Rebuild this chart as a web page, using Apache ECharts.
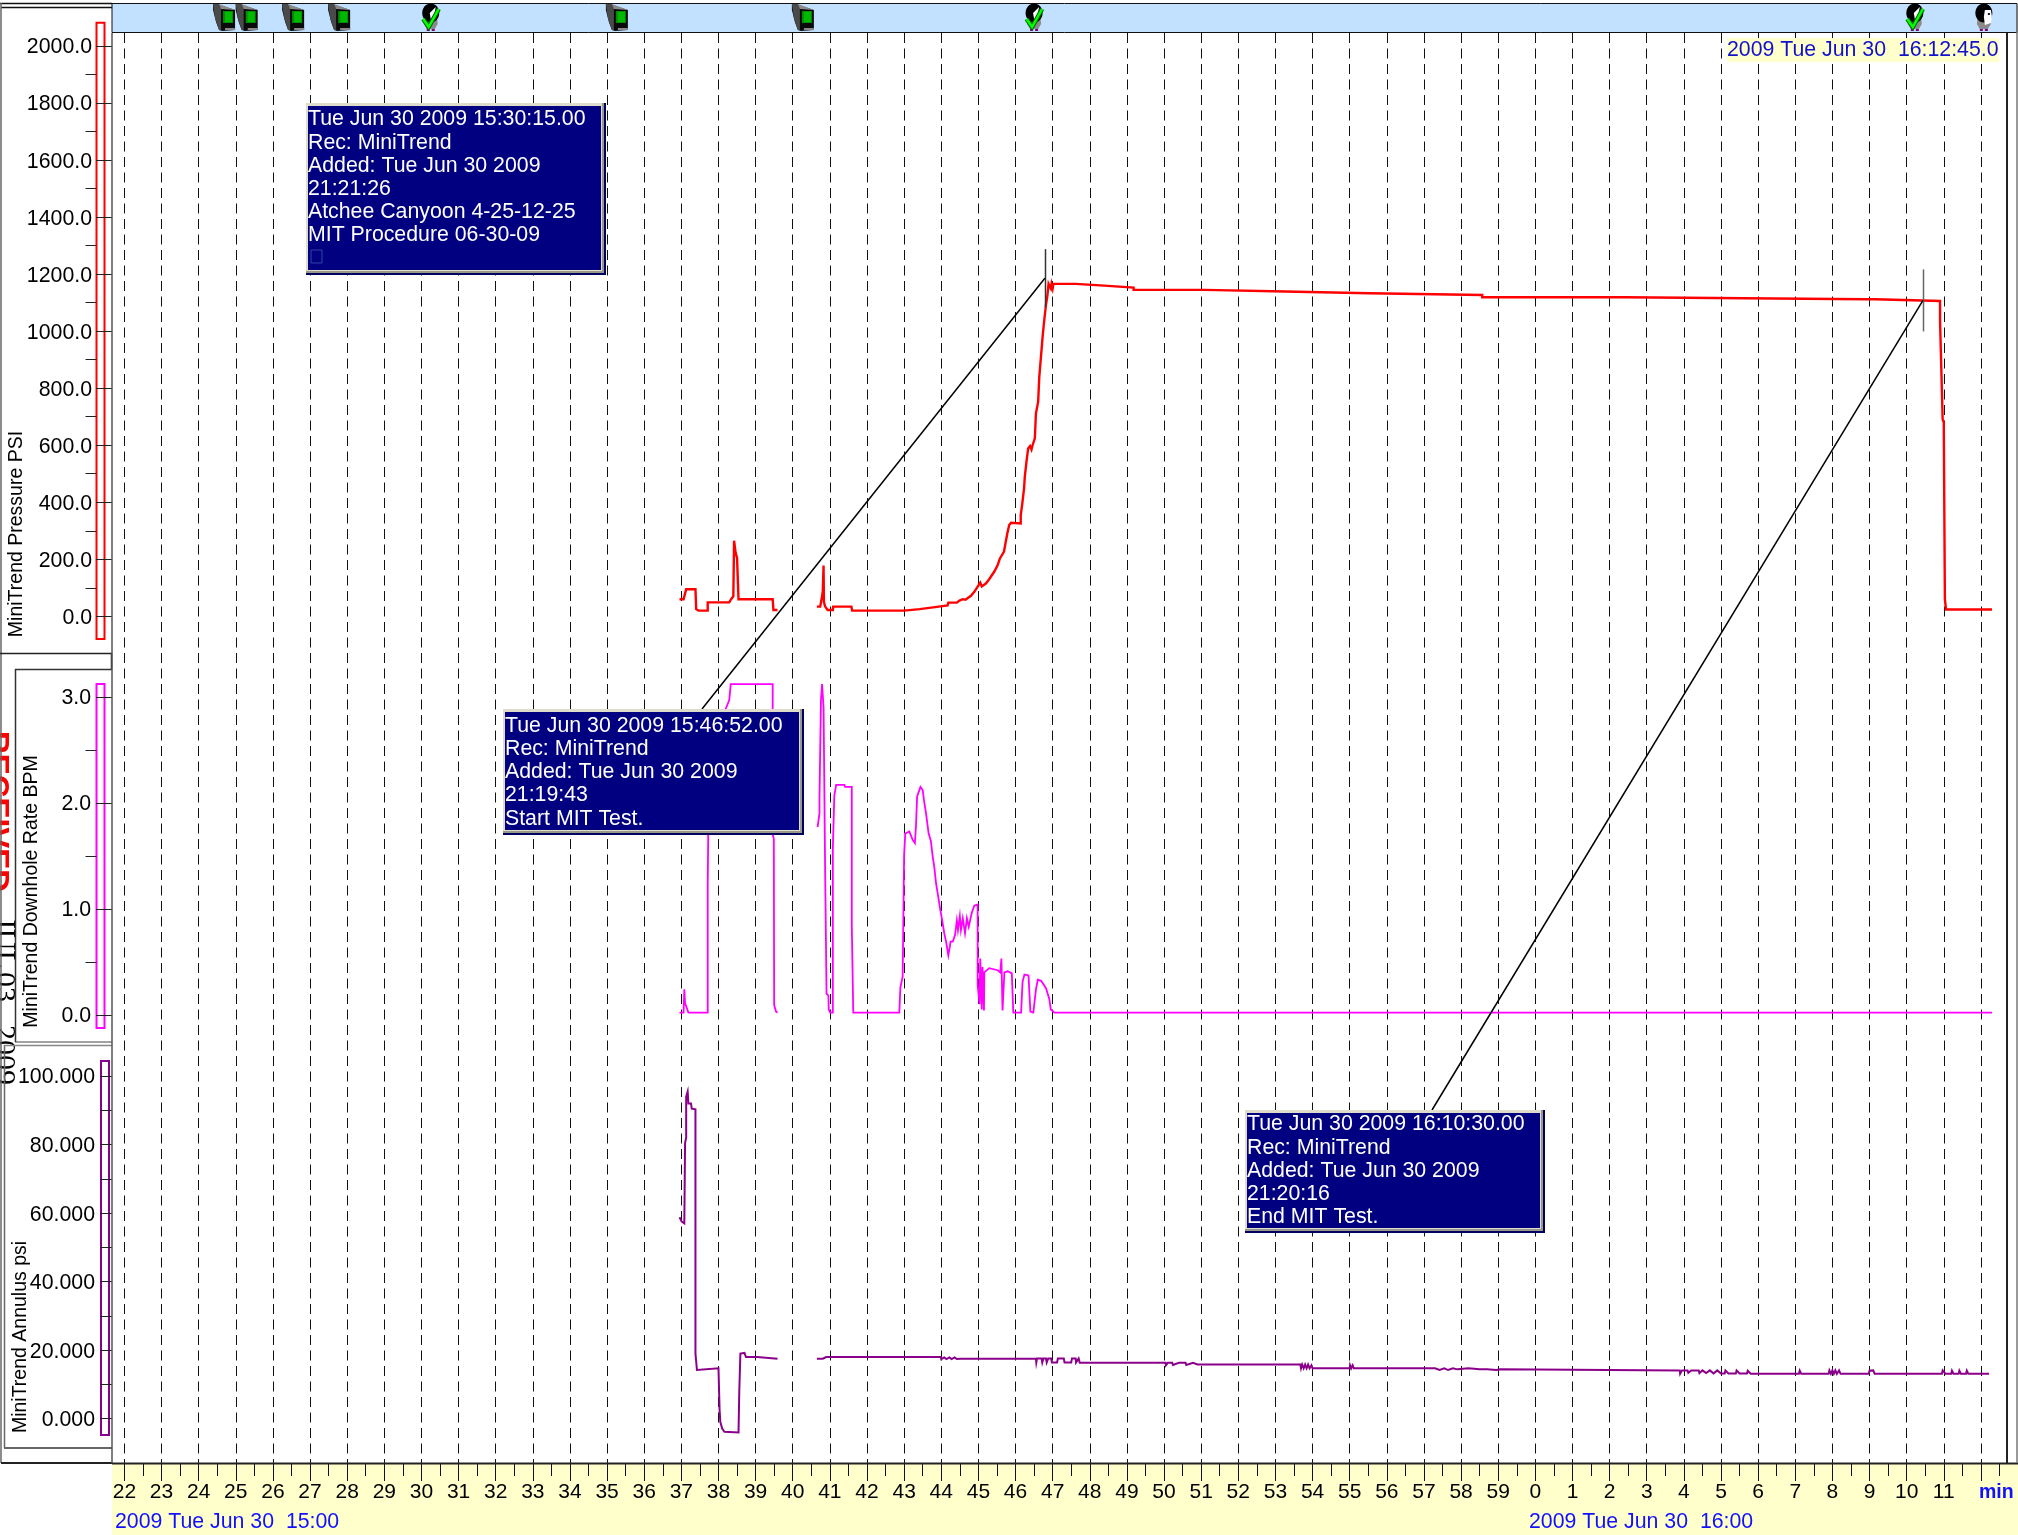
<!DOCTYPE html>
<html>
<head>
<meta charset="utf-8">
<style>html,body{margin:0;padding:0;background:#fff}#c{width:2018px;height:1535px}</style>
<script src="https://cdn.jsdelivr.net/npm/echarts@6/dist/echarts.min.js"></script>
</head>
<body>
<div id="c"></div>
<script>
// ---- data: [minutes after 15:00, value] ----
const pressureFirstRun = [[36.95,60],[37.06,60],[37.13,95],[37.38,95],[37.40,25],[37.46,20],[37.71,20],[37.71,49],[38.29,49],[38.34,60],[38.40,70],[38.42,265],[38.46,224],[38.50,205],[38.54,205],[38.54,60],[39.46,60],[39.48,22],[39.59,22]];
const pressureRamp = [[40.65,34],[40.74,34],[40.79,70],[40.81,89],[40.83,178],[40.84,50],[40.87,35],[40.94,22],[41.08,22],[41.09,34],[41.58,34],[41.60,20],[43.0,20],[43.02,25],[43.42,25],[43.44,32],[43.83,32],[43.86,38],[44.17,38],[44.19,48],[44.42,48],[44.49,55],[44.53,50],[44.58,60],[44.65,58],[44.68,65],[44.80,72],[44.89,86],[44.98,104],[45.05,118],[45.09,105],[45.2,115],[45.29,130],[45.43,157],[45.52,180],[45.58,203],[45.69,227],[45.72,249],[45.78,291],[45.83,320],[45.88,328],[46.14,326],[46.14,355],[46.18,393],[46.23,449],[46.25,490],[46.30,548],[46.34,589],[46.39,597],[46.43,585],[46.46,600],[46.52,624],[46.55,712],[46.61,753],[46.64,840],[46.68,902],[46.73,981],[46.77,1034],[46.82,1092],[46.86,1127],[46.89,1166]];
const pressurePlateau = [[46.93,1166],[46.95,1150],[46.97,1166],[47.0,1150],[47.02,1166],[47.62,1166],[47.62,1160],[48.39,1160],[48.39,1153],[49.18,1153],[49.18,1145],[51.08,1145],[51.08,1139],[53.26,1139],[53.26,1133],[55.53,1133],[55.53,1127],[58.57,1127],[58.57,1119],[62.38,1119],[62.38,1112],[68.9,1112],[68.92,1107],[68.98,1112],[69.02,1107],[69.06,1112],[69.1,1108],[69.15,1112],[69.2,1106],[70.9,1106]];
const pressureDrop = [[70.9,1035],[70.95,1035],[70.97,690],[71.0,680],[71.03,60],[71.06,24],[72.3,24]];

const rateFirstRun = [[36.95,0.02],[37.06,0.02],[37.08,0.24],[37.10,0.11],[37.15,0.11],[37.19,0.02],[37.71,0.02],[37.71,1.22],[37.75,1.22],[37.75,2.6],[38.15,2.85],[38.2,2.89],[38.29,2.97],[38.33,3.12],[39.46,3.12],[39.46,1.7],[39.49,1.66],[39.5,0.09],[39.55,0.03],[39.59,0.02]];
const rateSecondRun = [[40.67,1.77],[40.72,1.9],[40.72,2.04],[40.76,2.04],[40.76,2.97],[40.79,2.97],[40.79,3.12],[40.83,3.12],[40.83,2.9],[40.87,2.89],[40.87,1.45],[40.91,1.45],[40.91,0.2],[40.96,0.18],[40.97,0.05],[41.01,0.02],[41.08,0.02],[41.08,1.57],[41.12,1.57],[41.12,2.07],[41.17,2.07],[41.17,2.17],[41.39,2.17],[41.41,2.15],[41.59,2.15],[41.59,0.85],[41.63,0.85],[41.63,0.02]];
const rateThirdRun = [[42.87,0.02],[42.9,0.26],[42.96,0.36],[43.0,1.51],[43.03,1.71],[43.14,1.73],[43.23,1.65],[43.29,1.62],[43.32,1.79],[43.35,2.06],[43.41,2.12],[43.44,2.15],[43.5,2.12],[43.54,2.01],[43.59,1.9],[43.66,1.71],[43.72,1.64],[43.77,1.49],[43.81,1.4],[43.86,1.24],[43.92,1.11],[43.97,1.0],[44.04,0.86],[44.08,0.77],[44.13,0.69],[44.19,0.56],[44.23,0.64],[44.25,0.69],[44.31,0.69],[44.37,0.75],[44.42,0.89],[44.45,0.8],[44.5,0.93],[44.53,0.8],[44.58,0.91],[44.64,0.77],[44.69,0.91],[44.74,0.83],[44.82,0.96],[44.89,1.03],[44.98,1.04],[44.98,0.28],[45.03,0.1],[45.05,0.53],[45.09,0.05],[45.11,0.45],[45.15,0.04],[45.16,0.4],[45.29,0.44],[45.52,0.42],[45.59,0.4],[45.62,0.53],[45.65,0.04],[45.7,0.4],[45.79,0.41],[45.9,0.39],[45.94,0.02],[46.15,0.02],[46.19,0.31],[46.24,0.38],[46.35,0.37],[46.4,0.03],[46.48,0.02],[46.55,0.24],[46.6,0.33],[46.69,0.32],[46.82,0.25],[46.91,0.15],[46.95,0.05],[47.05,0.02],[72.3,0.02]];

const annulusFirstRun = [[36.95,58.8],[37.01,57.5],[37.04,57],[37.08,57],[37.1,80.5],[37.13,82],[37.13,94],[37.17,95.5],[37.19,92],[37.26,92],[37.28,90.5],[37.38,90.3],[37.38,19],[37.42,19],[37.42,14.2],[37.46,14.7],[38.0,14.7],[38.03,2.5],[38.05,-1],[38.1,-2.9],[38.16,-3.8],[38.54,-4],[38.56,7.9],[38.59,19],[38.7,19.2],[38.74,18],[39.04,18],[39.06,17.5],[39.59,17.5]];
const annulusSecondRun = [[40.65,17.5],[40.81,17.5],[40.9,18],[43.99,18],[44.0,17.4],[44.08,17.9],[44.14,17.4],[44.22,17.9],[44.28,17.4],[44.36,17.9],[44.42,17.4],[44.47,17.9],[44.52,17.5],[46.55,17.5],[46.56,16.4],[46.58,17.6],[46.7,17.6],[46.72,16.4],[46.75,17.6],[46.82,17.6],[46.84,16.4],[46.88,17.6],[46.96,17.6],[46.98,16.4],[47.12,16.4],[47.14,17.6],[47.3,17.6],[47.32,16.4],[47.5,16.4],[47.52,17.6],[47.62,17.6],[47.63,16.4],[47.68,16.4],[47.7,17.6],[47.73,16.3],[50.04,16.3],[50.05,15.6],[50.1,16.3],[50.22,16.3],[50.24,15.7],[50.4,16.3],[50.58,16.3],[50.6,15.7],[50.78,16.3],[50.9,15.8],[51.11,15.8],[53.67,15.8],[53.69,14.7],[53.72,15.8],[53.76,14.7],[53.8,15.8],[53.84,14.7],[53.88,15.8],[53.92,14.7],[53.97,15.6],[54.0,14.7],[55.0,14.7],[55.01,15.6],[55.04,14.7],[55.08,15.6],[55.11,14.7],[57.13,14.7],[57.15,14.2],[57.3,14.7],[57.42,14.2],[57.55,14.7],[57.65,14.2],[57.78,14.7],[57.9,14.4],[58.2,14.7],[58.5,14.4],[58.7,14.4],[58.72,14.2],[58.95,14.2],[59.05,14.4],[59.1,14.1],[63.89,14.1],[63.9,13.1],[63.95,14.1],[64.1,14.1],[64.12,13.4],[64.2,14.1],[64.4,14.1],[64.42,13.3],[64.5,14.1],[64.6,13.3],[64.7,14.1],[64.8,13.2],[64.9,14.1],[65.0,13.2],[65.1,13.2],[65.12,14.1],[65.2,13.2],[65.4,13.2],[65.42,14.1],[65.5,13.2],[65.7,13.2],[65.72,14],[65.8,13.1],[65.95,13.1],[67.1,13.1],[67.12,14],[67.16,13.1],[67.9,13.1],[67.92,14.1],[67.96,13.1],[68.0,14.1],[68.04,13.1],[68.08,14.1],[68.12,13.1],[68.18,14.1],[68.22,13.1],[68.98,13.1],[69.0,14],[69.1,14.1],[69.14,13.1],[70.95,13.1],[70.97,14.1],[71.02,14.1],[71.05,13.1],[71.2,13.1],[71.22,14],[71.26,13.1],[71.4,13.1],[71.42,14],[71.46,13.1],[71.6,13.1],[71.62,14],[71.66,13.1],[72.22,13.1]];

const monitorEvents = [24.67, 25.28, 26.53, 27.77, 35.25, 40.26];
const checkEvents = [30.25, 46.5, 70.22];
const personEvents = [72.08];
const leaderMinutes = [46.79, 70.44];
const leaderPressures = [1186, 1108];

const minuteTicks = [22,23,24,25,26,27,28,29,30,31,32,33,34,35,36,37,38,39,40,41,42,43,44,45,46,47,48,49,50,51,52,53,54,55,56,57,58,59,60,61,62,63,64,65,66,67,68,69,70,71,72];
const minuteLabels = [22,23,24,25,26,27,28,29,30,31,32,33,34,35,36,37,38,39,40,41,42,43,44,45,46,47,48,49,50,51,52,53,54,55,56,57,58,59,60,61,62,63,64,65,66,67,68,69,70,71];
const halfMinuteTicks = [22.5,23.5,24.5,25.5,26.5,27.5,28.5,29.5,30.5,31.5,32.5,33.5,34.5,35.5,36.5,37.5,38.5,39.5,40.5,41.5,42.5,43.5,44.5,45.5,46.5,47.5,48.5,49.5,50.5,51.5,52.5,53.5,54.5,55.5,56.5,57.5,58.5,59.5,60.5,61.5,62.5,63.5,64.5,65.5,66.5,67.5,68.5,69.5,70.5,71.5,72.5];
const pressureTicks = [0,200,400,600,800,1000,1200,1400,1600,1800,2000];
const pressureMinor = [100,300,500,700,900,1100,1300,1500,1700,1900];
const rateTicks = [0,1,2,3];
const rateMinor = [0.5,1.5,2.5];
const annulusTicks = [0,20,40,60,80,100];
const annulusAll = [0,10,20,30,40,50,60,70,80,90,100];

const callouts = [
  {x:306,y:103,w:300,h:172,shift:2,lines:['Tue Jun 30 2009 15:30:15.00','Rec: MiniTrend','Added: Tue Jun 30 2009','21:21:26','Atchee Canyoon 4-25-12-25','MIT Procedure 06-30-09'],box:true},
  {x:503,y:709,w:301,h:126,shift:2.5,lines:['Tue Jun 30 2009 15:46:52.00','Rec: MiniTrend','Added: Tue Jun 30 2009','21:19:43','Start MIT Test.']},
  {x:1245,y:1110,w:300,h:123,shift:0,lines:['Tue Jun 30 2009 16:10:30.00','Rec: MiniTrend','Added: Tue Jun 30 2009','21:20:16','End MIT Test.']}
];
const leaderAttachX = [702, 1432];
const leaderAttachY = [709, 1110];
const leaderHalf = [29, 31];

// ---- layout ----
const FONT = '"Liberation Sans", Arial, sans-serif';
const TXT = 21.3;
const L = 112, W = 1895, FULLW = 1905;
const xMin = 22 - (124.4 - L) / 37.13;
const xMax = xMin + W / 37.13;
const xMaxFull = xMin + FULLW / 37.13;
const join = (...segs) => { const o = []; segs.forEach((s,i)=>{ if(i) o.push([s[0][0]-0.01,null]); o.push(...s); }); return o; };

const grids = [
  {left:L,width:FULLW,top:3.5,height:29,show:true,backgroundColor:'#C2E0FF',borderColor:'#111',borderWidth:1},  // 0 event band
  {left:L,width:1906,top:1463,height:72,show:true,backgroundColor:'#FFFFCC',borderWidth:0},                      // 1 time band
  {left:L,width:W,top:33,height:1430},                                                                          // 2 plot
  {left:L,width:W,top:22.7,height:616.3},                                                                       // 3 pressure
  {left:L,width:W,top:684,height:344},                                                                          // 4 rate
  {left:L,width:W,top:1061,height:374},                                                                         // 5 annulus
  {left:96.5,width:8,top:22.7,height:616.3,show:true,borderColor:'#FF0000',borderWidth:2},                       // 6 rails
  {left:96.5,width:8,top:684,height:344,show:true,borderColor:'#FF00FF',borderWidth:2},
  {left:101,width:8,top:1061,height:374,show:true,borderColor:'#8B008B',borderWidth:2}
];
const hiddenX = (g,max) => ({type:'value',gridIndex:g,show:false,min:xMin,max:max||xMax});
const hiddenY = (g) => ({type:'value',gridIndex:g,show:false,min:0,max:1});
const P = {min:-79.6,max:2082}, R = {min:-0.125,max:3.121}, A = {min:-4.76,max:104.4};

const xAxes = [
  hiddenX(0,xMaxFull),              // 0
  hiddenX(1),                       // 1
  {type:'value',gridIndex:2,min:xMin,max:xMax,position:'bottom',           // 2 labels + dashes
    axisLine:{show:false},
    axisTick:{show:true,length:18,customValues:minuteTicks,lineStyle:{color:'#111',width:1}},
    axisLabel:{show:true,customValues:minuteLabels,margin:19,color:'#000',fontFamily:FONT,fontSize:21,hideOverlap:false,
      formatter:v=>String(v>=60?v-60:v)},
    splitLine:{show:true,lineStyle:{color:'#111',width:1,type:[10,5.5]}}},
  {type:'value',gridIndex:2,min:xMin,max:xMax,position:'bottom',           // 3 half-minute ticks
    axisLine:{show:false},axisLabel:{show:false},splitLine:{show:false},
    axisTick:{show:true,length:13,customValues:halfMinuteTicks,lineStyle:{color:'#111',width:1}}},
  hiddenX(3),hiddenX(4),hiddenX(5), // 4 5 6
  {type:'value',gridIndex:6,show:false,min:0,max:1},
  {type:'value',gridIndex:7,show:false,min:0,max:1},
  {type:'value',gridIndex:8,show:false,min:0,max:1}
];
const labelled = (g,range,ticks,labels,len,margin,digits) => ({
  type:'value',gridIndex:g,min:range.min,max:range.max,position:'left',
  axisLine:{show:false},splitLine:{show:false},
  axisTick:{show:true,length:len,customValues:ticks,lineStyle:{color:'#222',width:1}},
  axisLabel:{show:true,customValues:labels,margin:margin,hideOverlap:false,
    formatter:v=>'{a|'+v.toFixed(digits)+'}',
    rich:{a:{color:'#000',fontFamily:FONT,fontSize:TXT,padding:[3,0,0,0]}}}
});
const railMinor = (g,range,ticks,offset,len) => ({
  type:'value',gridIndex:g,min:range.min,max:range.max,position:'right',offset:offset,
  axisLine:{show:false},axisLabel:{show:false},splitLine:{show:false},
  axisTick:{show:true,inside:true,length:len,customValues:ticks,lineStyle:{color:'#222',width:1}}
});
const yAxes = [
  hiddenY(0),hiddenY(1),hiddenY(2),
  labelled(3,P,pressureTicks,pressureTicks,16,20,1),
  labelled(4,R,rateTicks,rateTicks,16,21,1),
  labelled(5,A,annulusAll,annulusTicks,12,17,3),
  railMinor(6,P,pressureMinor,2.5,11),
  railMinor(7,R,rateMinor,3,11),
  hiddenY(8)
];

const line = (name,xi,yi,data,color,width) => ({
  name,type:'line',xAxisIndex:xi,yAxisIndex:yi,data,symbol:'none',silent:true,animation:false,
  connectNulls:false,clip:false,z:3,lineStyle:{color,width,join:'miter'}
});

function monitorIcon(params,api){
  const x = api.coord([api.value(0),0])[0]-10.5, t = 4;
  const pg=(pts,fill)=>({type:'polygon',shape:{points:pts.map(p=>[x+p[0],t+p[1]])},style:{fill}});
  const rc=(a,b,w,h,fill)=>({type:'rect',shape:{x:x+a,y:t+b,width:w,height:h},style:{fill}});
  return {type:'group',silent:true,children:[
    pg([[0,0],[7,1],[22,6],[22,26],[9,27],[6,26],[3,18],[0,6]],'#0a0a0a'),
    pg([[0,0],[6,0],[8,4],[8,26],[6,26],[2,14]],'#4a4a4a'),
    pg([[6,0],[22,6],[8,5]],'#8a8a8a'),
    rc(10,7,10,12,'#008f00'),
    rc(12,8,7,10,'#00B800'),
    rc(12,24,10,2,'#888')
  ]};
}
function figureBody(x,t){
  return [
    {type:'rect',shape:{x:x+5,y:t+23,width:3,height:4},style:{fill:'#800080'}},
    {type:'rect',shape:{x:x+10,y:t+23,width:3,height:4},style:{fill:'#800080'}},
    {type:'polygon',shape:{points:[[x+3,t+12],[x+15,t+10],[x+16,t+20],[x+13,t+25],[x+5,t+25],[x+2,t+20]]},style:{fill:'#8a8a8a'}},
    {type:'ellipse',shape:{cx:x+9,cy:t+9,rx:8.5,ry:9.5},style:{fill:'#000'}}
  ];
}
function checkIcon(params,api){
  const x = api.coord([api.value(0),0])[0]-9, t = 4;
  return {type:'group',silent:true,children:figureBody(x,t).concat([
    {type:'polygon',shape:{points:[[x+8,t+9],[x+14,t+3],[x+12,t+14],[x+9,t+15]]},style:{fill:'#fff'}},
    {type:'polyline',shape:{points:[[x+1.5,t+15],[x+7,t+23],[x+17,t+5]]},style:{fill:'none',stroke:'#006600',lineWidth:4.5}},
    {type:'polyline',shape:{points:[[x+1.5,t+15],[x+7,t+23],[x+17,t+5]]},style:{fill:'none',stroke:'#00FF00',lineWidth:2.5}}
  ])};
}
function personIcon(params,api){
  const x = api.coord([api.value(0),0])[0]-9, t = 4;
  return {type:'group',silent:true,children:figureBody(x,t).concat([
    {type:'polygon',shape:{points:[[x+10,t+6],[x+16,t+6],[x+17,t+12],[x+16,t+19],[x+10,t+21],[x+9,t+13]]},style:{fill:'#fff'}},
    {type:'rect',shape:{x:x+13,y:t+9,width:2,height:2},style:{fill:'#113'}}
  ])};
}
function leaderItem(params,api){
  const i = params.dataIndex;
  const p = api.coord([api.value(0),api.value(1)]);
  const cx = Math.round(p[0])+0.5;
  return {type:'group',silent:true,children:[
    {type:'line',shape:{x1:cx,y1:p[1]-leaderHalf[i],x2:cx,y2:p[1]+leaderHalf[i]},style:{stroke:i?'#666':'#333',lineWidth:1.5}},
    {type:'line',shape:{x1:p[0],y1:p[1],x2:leaderAttachX[i],y2:leaderAttachY[i]},style:{stroke:'#000',lineWidth:1.5}}
  ]};
}

const series = [
  {type:'custom',name:'monitors',xAxisIndex:0,yAxisIndex:0,data:monitorEvents.map(v=>[v,0.5]),renderItem:monitorIcon,clip:false,silent:true,animation:false,z:4},
  {type:'custom',name:'checks',xAxisIndex:0,yAxisIndex:0,data:checkEvents.map(v=>[v,0.5]),renderItem:checkIcon,clip:false,silent:true,animation:false,z:4},
  {type:'custom',name:'persons',xAxisIndex:0,yAxisIndex:0,data:personEvents.map(v=>[v,0.5]),renderItem:personIcon,clip:false,silent:true,animation:false,z:4},
  {type:'line',name:'ticks',xAxisIndex:2,yAxisIndex:2,data:[],silent:true},
  {type:'line',name:'half',xAxisIndex:3,yAxisIndex:2,data:[],silent:true},
  line('MiniTrend Pressure PSI',4,3,join(pressureFirstRun,pressureRamp.concat(pressurePlateau,pressureDrop)),'#FF0000',2.4),
  line('MiniTrend Downhole Rate BPM',5,4,join(rateFirstRun,rateSecondRun.concat(rateThirdRun)),'#FF00FF',1.8),
  line('MiniTrend Annulus psi',6,5,join(annulusFirstRun,annulusSecondRun),'#8B008B',2),
  {type:'custom',name:'leaders',xAxisIndex:4,yAxisIndex:3,data:leaderMinutes.map((m,i)=>[m,leaderPressures[i]]),renderItem:leaderItem,clip:false,silent:true,animation:false,z:6},
  {type:'line',xAxisIndex:7,yAxisIndex:6,data:[],silent:true},
  {type:'line',xAxisIndex:8,yAxisIndex:7,data:[],silent:true}
];

// ---- annotations (page furniture, fixed pixels) ----
const lineG = (x1,y1,x2,y2,stroke,lw,z) => ({type:'line',silent:true,z:z||8,shape:{x1,y1,x2,y2},style:{stroke,lineWidth:lw}});
const textG = (x,y,t,o) => ({type:'text',silent:true,z:(o&&o.z)||9,x,y,rotation:(o&&o.rot)||0,
  style:{text:t,fontFamily:(o&&o.font)||FONT,fontSize:(o&&o.size)||TXT,fontWeight:(o&&o.weight)||'normal',fill:(o&&o.fill)||'#000',align:(o&&o.align)||'left',verticalAlign:(o&&o.v)||'middle'}});
const CW = -Math.PI/2, CCW = Math.PI/2;
const SERIF = '"Liberation Serif",serif';
const graphics = [
  // rotated scan stamps at the left edge
  textG(-4,731,'RECEIVED',{rot:CW,size:31.5,weight:'bold',fill:'#FF0000',z:1}),
  textG(4,917,'JUL',{rot:CW,size:30,font:SERIF,z:1}),
  textG(4,972,'03',{rot:CW,size:30,font:SERIF,z:1}),
  textG(4,1025,'2009',{rot:CW,size:30,font:SERIF,z:1}),
  // panel frames
  lineG(0,3.5,112,3.5,'#111',1.5),
  lineG(1,7.5,112,7.5,'#111',1.5),
  lineG(1,3,1,1463,'#666',1.5),
  lineG(4.5,1045,4.5,1448,'#666',1.5),
  lineG(0,653.5,112,653.5,'#222',1.5),
  lineG(111.5,653,111.5,669,'#222',1.5),
  lineG(15,669.5,112,669.5,'#333',1.5),
  lineG(15.5,669,15.5,1042,'#333',1.5),
  lineG(15,1042,112,1042,'#444',1),
  lineG(4,1045.5,112,1045.5,'#888',1.5),
  lineG(4,1448,112,1448,'#666',2),
  lineG(1,1463,112,1463,'#222',2),
  lineG(112,33,112,1463,'#555',1.5),
  lineG(112,1463.5,2018,1463.5,'#222',2),
  lineG(2007,33,2007,1463,'#222',2),
  lineG(2017,4,2017,1463,'#777',1.5),
  // rotated axis captions
  textG(17,534,'MiniTrend Pressure PSI',{rot:CCW,size:19.5,align:'center'}),
  textG(32,891.5,'MiniTrend Downhole Rate BPM',{rot:CCW,size:19.5,align:'center'}),
  textG(20.5,1337,'MiniTrend Annulus psi',{rot:CCW,size:19.5,align:'center'}),
  // time captions
  textG(115,1522.5,'2009 Tue Jun 30  15:00',{fill:'#1111FF'}),
  textG(1529,1522.5,'2009 Tue Jun 30  16:00',{fill:'#1111FF'}),
  textG(1979,1493,'min',{fill:'#1111FF',weight:'bold',size:19.5}),
  {type:'rect',silent:true,z:8,shape:{x:1727,y:38,width:272,height:24},style:{fill:'#FFFFCC'}},
  textG(1727,50.5,'2009 Tue Jun 30  16:12:45.0',{fill:'#1111CC'})
];
callouts.forEach(c=>{
  graphics.push({type:'rect',silent:true,z:20,shape:{x:c.x,y:c.y,width:c.w,height:c.h},style:{fill:'#000060'}});
  graphics.push({type:'rect',silent:true,z:21,shape:{x:c.x,y:c.y,width:c.w-2,height:c.h-2},style:{fill:'#9A9888'}});
  graphics.push({type:'rect',silent:true,z:22,shape:{x:c.x,y:c.y,width:c.w-4,height:c.h-4},style:{fill:'#E0DCCC'}});
  graphics.push({type:'rect',silent:true,z:23,shape:{x:c.x+2,y:c.y+3,width:c.w-7,height:c.h-8},style:{fill:'#000080'}});
  c.lines.forEach((t,i)=>graphics.push(textG(c.x+2,c.y+14.5+c.shift+i*23.2,t,{fill:'#fff',z:24})));
  if(c.box) graphics.push({type:'rect',silent:true,z:24,shape:{x:c.x+5,y:c.y+147,width:11,height:13},style:{fill:'none',stroke:'#3344AA',lineWidth:1}});
});

const chart = echarts.init(document.getElementById('c'),null,{renderer:'canvas',width:2018,height:1535});
chart.setOption({animation:false,backgroundColor:'#fff',grid:grids,xAxis:xAxes,yAxis:yAxes,series,graphic:{elements:graphics}});
</script>
</body>
</html>
